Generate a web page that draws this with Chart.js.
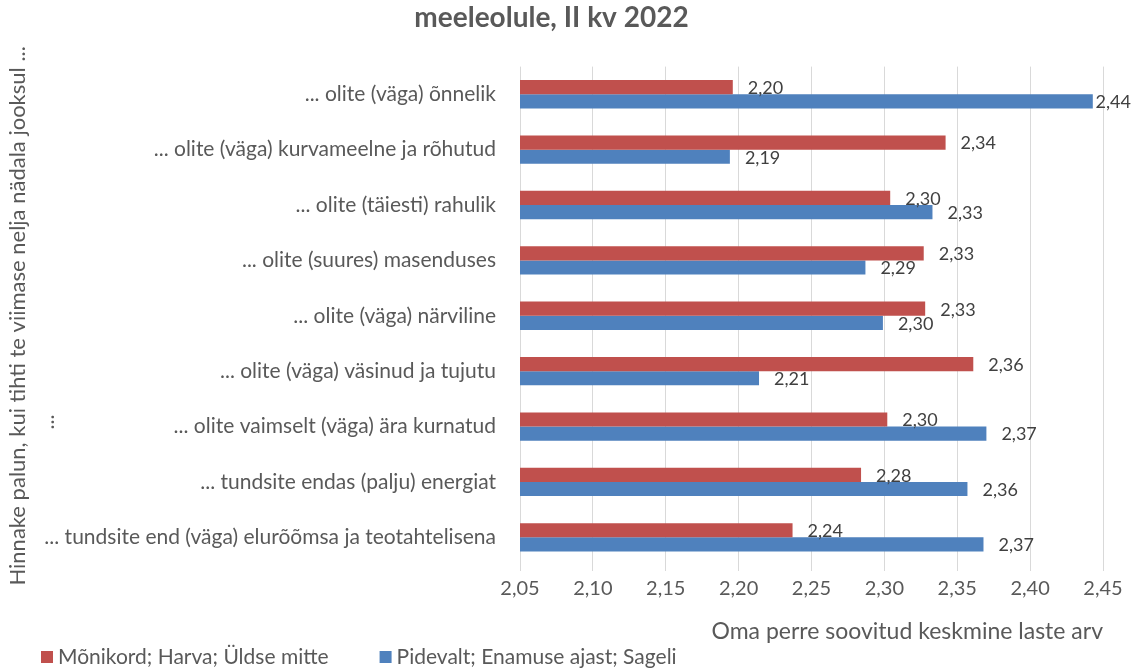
<!DOCTYPE html>
<html lang="et">
<head>
<meta charset="utf-8">
<title>meeleolule, II kv 2022</title>
<script src="https://cdn.jsdelivr.net/npm/chart.js@4.4.1/dist/chart.umd.min.js"></script>
<style>
  html, body { margin: 0; padding: 0; background: #fff; }
  #graafik-wrap { width: 1133px; height: 668px; position: relative; }
</style>
</head>
<body>
<div id="graafik-wrap"><canvas id="graafik"></canvas></div>
<script>
const kategooriad = [
  "... olite (väga) õnnelik",
  "... olite (väga) kurvameelne ja rõhutud",
  "... olite (täiesti) rahulik",
  "... olite (suures) masenduses",
  "... olite (väga) närviline",
  "... olite (väga) väsinud ja tujutu",
  "... olite vaimselt (väga) ära kurnatud",
  "... tundsite endas (palju) energiat",
  "... tundsite end (väga) elurõõmsa ja teotahtelisena",
];

const harvaVaartused = [2.196, 2.342, 2.304, 2.327, 2.328, 2.361, 2.302, 2.284, 2.237];
const sageliVaartused = [2.443, 2.194, 2.333, 2.287, 2.299, 2.214, 2.370, 2.357, 2.368];

const seeriaNimed = ["Mõnikord; Harva; Üldse mitte", "Pidevalt; Enamuse ajast; Sageli"];
const xTelgMin = 2.05;
const xTelgMax = 2.45;
const xSamm = 0.05;

const pealkiri = "meeleolule, II kv 2022";
const yTeljeNimi = "Hinnake palun, kui tihti te viimase nelja nädala jooksul ...";
const xTeljeNimi = "Oma perre soovitud keskmine laste arv";

const FONT = "Lato, 'Open Sans', sans-serif";
const HALL = "#595959";

function koma(v) {
  return v.toFixed(2).replace(".", ",");
}

// vaartused ribade otsa
const vaartuseSildid = {
  id: "vaartuseSildid",
  afterDatasetsDraw(chart) {
    const ctx = chart.ctx;
    ctx.save();
    ctx.font = `18px ${FONT}`;
    ctx.fillStyle = "#404040";
    ctx.textBaseline = "middle";
    ctx.textAlign = "left";
    chart.data.datasets.forEach((ds, i) => {
      const meta = chart.getDatasetMeta(i);
      meta.data.forEach((bar, j) => {
        const tekst = koma(ds.data[j]);
        const w = ctx.measureText(tekst).width;
        let x = bar.x + 15;
        if (x + w > chart.width - 2) x = chart.width - 2 - w;
        ctx.fillText(tekst, x, bar.y + 1);
      });
    });
    ctx.restore();
  },
};

// legend all vasakul nagu Excelis
const legendAll = {
  id: "legendAll",
  afterDraw(chart) {
    const ctx = chart.ctx;
    ctx.save();
    ctx.font = `21px ${FONT}`;
    ctx.textBaseline = "middle";
    ctx.textAlign = "left";
    let x = 41;
    const y = chart.height - 11;
    chart.data.datasets.forEach((ds) => {
      ctx.fillStyle = ds.backgroundColor;
      ctx.fillRect(x, y - 6, 12, 12);
      x += 17;
      ctx.fillStyle = HALL;
      ctx.fillText(ds.label, x, y);
      x += ctx.measureText(ds.label).width + 51;
    });

    // teise rea ots y-telje nimest
    ctx.translate(47, 422);
    ctx.rotate(-Math.PI / 2);
    ctx.textAlign = "center";
    ctx.fillText("...", 0, 0);
    ctx.restore();
  },
};

const ctx = document.getElementById("graafik").getContext("2d");

new Chart(ctx, {
  type: "bar",
  data: {
    labels: kategooriad,
    datasets: [
      {
        label: seeriaNimed[0],
        data: harvaVaartused,
        backgroundColor: "#C0504D",
      },
      {
        label: seeriaNimed[1],
        data: sageliVaartused,
        backgroundColor: "#4F81BD",
      },
    ],
  },
  options: {
    indexAxis: "y",
    responsive: true,
    maintainAspectRatio: false,
    animation: false,
    datasets: {
      bar: {
        barPercentage: 1,
        categoryPercentage: 0.512,
      },
    },
    layout: {
      padding: { left: 0, right: 30, top: 0, bottom: 23 },
    },
    plugins: {
      legend: { display: false },
      tooltip: { enabled: false },
      title: {
        display: true,
        text: pealkiri,
        color: HALL,
        font: { family: FONT, size: 28, weight: "bold" },
        padding: { top: 1, bottom: 32 },
      },
    },
    scales: {
      x: {
        min: xTelgMin,
        max: xTelgMax,
        border: { display: false },
        grid: {
          color: "#D9D9D9",
          lineWidth: 1,
          drawTicks: true,
          tickLength: 6,
        },
        ticks: {
          stepSize: xSamm,
          color: HALL,
          padding: 6,
          font: { family: FONT, size: 20 },
          callback: (v) => koma(v),
        },
        title: {
          display: true,
          text: xTeljeNimi,
          align: "end",
          color: HALL,
          font: { family: FONT, size: 23 },
          padding: { top: 4, bottom: 0 },
        },
        afterFit(scale) {
          scale.height = 80;
        },
      },
      y: {
        border: { display: false },
        grid: { display: false },
        ticks: {
          color: HALL,
          padding: 16,
          font: { family: FONT, size: 21 },
        },
        title: {
          display: true,
          text: yTeljeNimi,
          color: HALL,
          font: { family: FONT, size: 22 },
          padding: { top: 5, bottom: 0 },
        },
        afterFit(scale) {
          scale.width = 520;
        },
      },
    },
  },
  plugins: [vaartuseSildid, legendAll],
});
</script>
</body>
</html>
